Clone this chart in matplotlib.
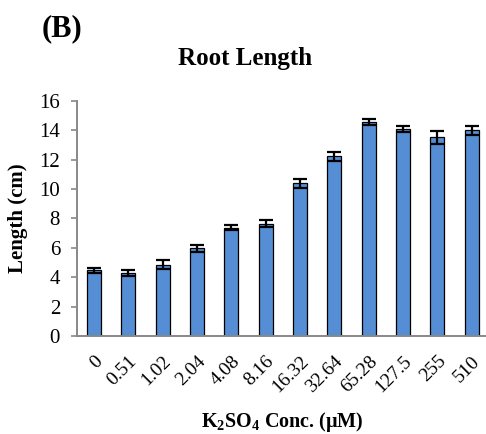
import matplotlib.pyplot as plt

# Datos
conc = ["0", "0.51", "1.02", "2.04", "4.08", "8.16", "16.32", "32.64",
        "65.28", "127.5", "255", "510"]
length = [4.47, 4.29, 4.86, 5.97, 7.36, 7.65, 10.4, 12.23, 14.57, 14.09, 13.52, 14.0]
err = [0.18, 0.18, 0.3, 0.22, 0.17, 0.25, 0.3, 0.3, 0.18, 0.23, 0.45, 0.32]

plt.rcParams['font.family'] = ['Liberation Serif', 'DejaVu Serif']
plt.rcParams['mathtext.fontset'] = 'custom'
plt.rcParams['mathtext.rm'] = 'Liberation Serif'
plt.rcParams['mathtext.bf'] = 'Liberation Serif:bold'

fig = plt.figure(figsize=(4.86, 4.34), dpi=100)
ax = fig.add_axes([0.158, 0.2258, 0.848, 0.5415])

x = range(len(conc))
ax.bar(x, length, width=0.41, color='#558ED5', edgecolor='black', linewidth=0.9,
       yerr=err, capsize=4.7, error_kw=dict(elinewidth=1.6, capthick=1.6, ecolor='black'))

ax.set_xlim(-0.5, len(conc) - 0.5)
ax.set_ylim(0, 16)
ax.set_yticks(range(0, 17, 2))
ax.set_xticks(list(x))
ax.set_xticklabels(conc, rotation=45, ha='right', va='top', rotation_mode='anchor', fontsize=14)
ax.tick_params(axis='y', labelsize=15, length=4, width=1.2, color='#888888', pad=8)
ax.tick_params(axis='x', length=0, pad=12)

for s in ['top', 'right']:
    ax.spines[s].set_visible(False)
for s in ['left', 'bottom']:
    ax.spines[s].set_color('#888888')
    ax.spines[s].set_linewidth(1.4)

ax.set_ylabel('Length (cm)', fontsize=15, fontweight='bold', labelpad=8)
ax.set_xlabel(r'K$_\mathbf{2}$SO$_\mathbf{4}$ Conc. (\u03bcM)'.replace('\\u03bc', '\u03bc'),
              fontsize=14.5, fontweight='bold', labelpad=10)

fig.text(0.504, 0.866, 'Root Length', fontsize=18, fontweight='bold', ha='center', va='center')
fig.text(0.085, 0.933, '(B)', fontsize=22, fontweight='bold', ha='left', va='center')

fig.savefig('out.png', dpi=100)
